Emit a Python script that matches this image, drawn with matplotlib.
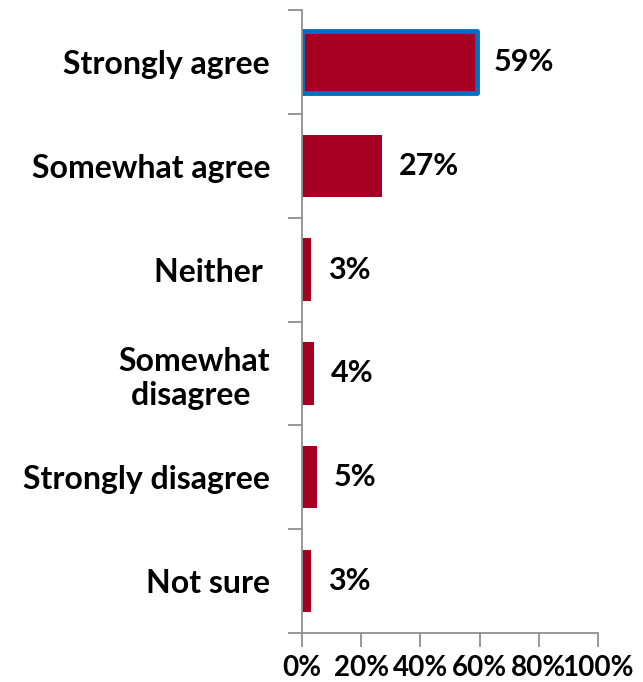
import numpy as np
import matplotlib.pyplot as plt

plt.rcParams['font.family'] = ['Lato', 'DejaVu Sans']

categories = ['Strongly agree', 'Somewhat agree', 'Neither ', 'Somewhat\ndisagree ',
              'Strongly disagree', 'Not sure']
values = [59, 27, 3, 4, 5, 3]
xticks = [0, 20, 40, 60, 80, 100]

fig = plt.figure(figsize=(6.43, 6.82), dpi=100)
ax = fig.add_axes([302 / 643, 49 / 682, 296 / 643, 623 / 682])

y = np.arange(len(categories))
bars = ax.barh(y, values, height=0.6, color='#A50021')
bars[0].set_edgecolor('#0070C0')
bars[0].set_linewidth(3.5)
bars[0].set_joinstyle('round')

for yi, v in zip(y, values):
    ax.text(v + 5.8, yi, f'{v}%', va='center', ha='left', fontsize=22, fontweight='bold')

ax.set_ylim(len(categories) - 0.5, -0.5)
ax.set_xlim(0, 100)

ax.set_yticks(y)
ax.set_yticklabels(categories, fontsize=23, fontweight='bold', multialignment='center')
ax.tick_params(axis='y', which='major', length=0, pad=23)
ax.set_yticks(np.arange(len(categories) + 1) - 0.5, minor=True)
ax.tick_params(axis='y', which='minor', length=10, width=1.3, color='#909090', direction='out')

ax.set_xticks(xticks)
ax.set_xticklabels([f'{t}%' for t in xticks], fontsize=20, fontweight='bold')
ax.tick_params(axis='x', length=10, width=1.3, color='#909090', direction='out', pad=6)

for s in ['top', 'right']:
    ax.spines[s].set_visible(False)
for s in ['left', 'bottom']:
    ax.spines[s].set_color('#909090')
    ax.spines[s].set_linewidth(1.3)

plt.savefig('out.png', dpi=100)
